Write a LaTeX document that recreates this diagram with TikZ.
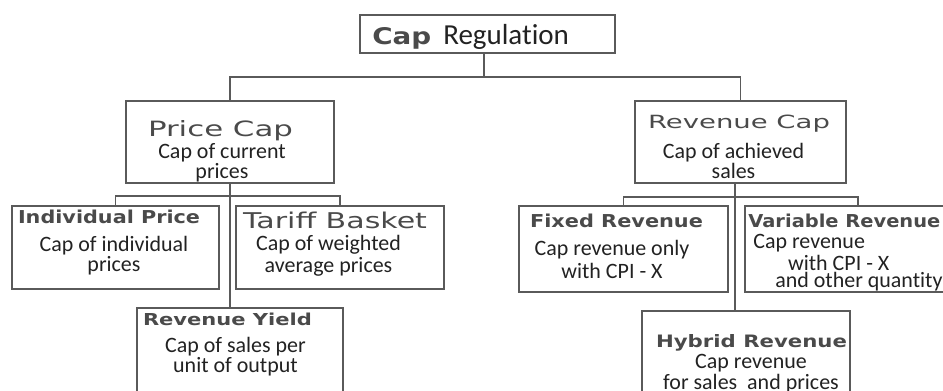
\documentclass[tikz,border=0pt]{standalone}
\usepackage{fontspec}
\usepackage{graphicx}
\setmainfont{Carlito}[Ligatures=NoCommon]
\newfontfamily\headfont{DejaVu Sans}
\usetikzlibrary{positioning}

\definecolor{linegray}{HTML}{5A5A5A}
\definecolor{hdgray}{HTML}{4A4A4A}
\definecolor{txtblack}{HTML}{222222}

% squeezed / stretched heading text: width, height, text
\newcommand\headline[3]{\resizebox{#1}{#2}{\headfont #3}}

\begin{document}
\begin{tikzpicture}[x=0.02cm,y=-0.02cm,
  capbox/.style={draw=linegray, line width=1.1pt, inner sep=0pt},
  link/.style={draw=linegray, line width=0.9pt},
  headtxt/.style={inner sep=0pt, anchor=base, text=hdgray},
  bodytxt/.style={inner sep=0pt, anchor=north, align=center, text=txtblack,
    font=\fontsize{12.5}{11.5}\selectfont}]
%%%%%%%%%%%%%%%%%%%%%%%%%%%%%%%%%%%%%%%%%%% HELP LINES
%\draw[help lines] (0,0) grid +(943,390);
\useasboundingbox (0,0) rectangle (943,390);
\clip (0,0) rectangle (943,390);

%%%%%%%%%%%%%%%%%%%%%%%%%%%%%%%%%%%%%%%%%%% boxes
\node[capbox, minimum width=5.1cm, minimum height=0.76cm] (root) at (487.5,34){};
\node[capbox, minimum width=4.16cm, minimum height=1.64cm] (price) at (230,142){};
\node[capbox, minimum width=4.22cm, minimum height=1.64cm] (rev) at (740.5,142){};
\node[capbox, minimum width=4.14cm, minimum height=1.66cm] (indiv) at (115.5,247.5){};
\node[capbox, minimum width=4.16cm, minimum height=1.66cm] (tariff) at (340,247.5){};
\node[capbox, minimum width=4.12cm, minimum height=2cm] (yield) at (240,358){};
\node[capbox, minimum width=4.18cm, minimum height=1.72cm] (fixed) at (623.5,249){};
\node[capbox, minimum width=4.52cm, minimum height=1.72cm] (var) at (858,249){};
\node[capbox, minimum width=4.16cm, minimum height=2cm] (hybrid) at (746,361){};

%%%%%%%%%%%%%%%%%%%%%%%%%%%%%%%%%%%%%%%%%%% connectors
\coordinate (j0) at (484,77);
\coordinate (j1) at (230,196);
\coordinate (j2) at (735,197);
\draw[link] (j0 |- root.south) -- (j0);
\draw[link] (price.north) |- (j0) -| (rev.north);
\draw[link] (j1 |- price.south) -- (j1 |- yield.north);
\draw[link] (indiv.north) |- (j1) -| (tariff.north);
\draw[link] (j2 |- rev.south) -- (j2 |- hybrid.north);
\draw[link] (fixed.north) |- (j2) -| (var.north);

%%%%%%%%%%%%%%%%%%%%%%%%%%%%%%%%%%%%%%%%%%% headings
\node[headtxt, anchor=base west] (rootT) at (372,44)
  {\headline{1.18cm}{0.34cm}{\bfseries Cap}\hspace{6.8pt}{\color{txtblack}\fontsize{16.5}{16.5}\selectfont Regulation}};
\node[headtxt] (priceT) at (220.5,136) {\headline{2.9cm}{0.32cm}{Price Cap}};
\node[headtxt] (revT) at (739,128) {\headline{3.64cm}{0.27cm}{Revenue Cap}};
\node[headtxt] (indivT) at (109,223) {\headline{3.64cm}{0.27cm}{\bfseries Individual Price}};
\node[headtxt] (tariffT) at (335,228) {\headline{3.68cm}{0.33cm}{Tariff Basket}};
\node[headtxt] (yieldT) at (227.5,325) {\headline{3.38cm}{0.25cm}{\bfseries Revenue Yield}};
\node[headtxt] (fixedT) at (616.5,227) {\headline{3.46cm}{0.27cm}{\bfseries Fixed Revenue}};
\node[headtxt, anchor=base west] (varT) at (748,227) {\headline{3.84cm}{0.27cm}{\bfseries Variable Revenue}};
\node[headtxt] (hybridT) at (751.5,347) {\headline{3.82cm}{0.26cm}{\bfseries Hybrid Revenue}};

%%%%% texts
\node[bodytxt] (priceB) at (222,143) {Cap of current\\prices};
\node[bodytxt] (revB) at (733.5,143) {Cap of achieved\\sales};
\node[bodytxt] (indivB) at (114,236) {Cap of individual\\prices};
\node[bodytxt, font=\fontsize{12.5}{12.5}\selectfont] (tariffB) at (328.5,235) {Cap of weighted\\average prices};
\node[bodytxt] (yieldB) at (235.5,337) {Cap of sales per\\unit of output};
\node[bodytxt, font=\fontsize{12.5}{13}\selectfont] (fixedB) at (612,240) {Cap revenue only\\with CPI - X};
\node[bodytxt, anchor=north west, align=left, font=\fontsize{12.5}{10}\selectfont] (varB) at (753,234)
  {Cap revenue\\[0.5pt]\hspace*{19.8pt}with CPI - X\\\hspace*{12.5pt}and other quantity};
\node[bodytxt, font=\fontsize{12.5}{10.5}\selectfont] (hybridB) at (751,354) {Cap revenue\\for sales\ \ and prices};

\end{tikzpicture}
\end{document}
